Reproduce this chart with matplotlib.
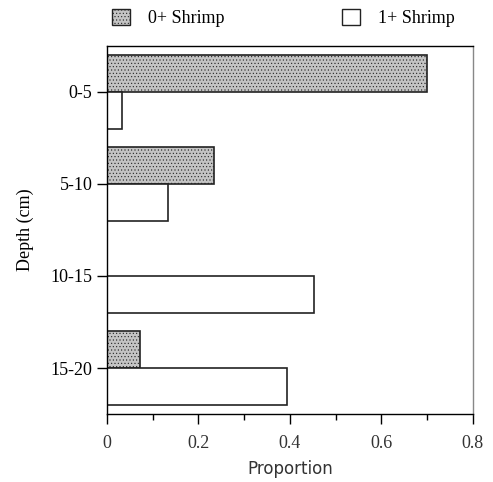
import matplotlib
matplotlib.use('Agg')
import matplotlib.pyplot as plt
import numpy as np
from matplotlib.patches import Patch
from matplotlib.ticker import MultipleLocator

depths = ['0-5', '5-10', '10-15', '15-20']
shrimp0 = [0.70, 0.235, 0.0, 0.072]
shrimp1 = [0.033, 0.133, 0.452, 0.393]


def main():
    plt.rcParams['hatch.linewidth'] = 0.4
    plt.rcParams['hatch.color'] = '#707070'
    serif = 'Liberation Serif'

    fig = plt.figure(figsize=(4.93, 4.82), dpi=100)
    ax = fig.add_axes([0.217, 0.141, 0.742, 0.764])

    y = np.arange(len(depths))
    h = 0.4
    ax.barh(y - h / 2, shrimp0, height=h, facecolor='#c4c4c4', edgecolor='#222222',
            linewidth=1.2, hatch='.....')
    ax.barh(y + h / 2, shrimp1, height=h, facecolor='white', edgecolor='#222222',
            linewidth=1.2)

    ax.set_xlim(0, 0.8)
    ax.set_ylim(3.5, -0.5)
    ax.set_yticks(y)
    ax.set_yticklabels(depths, fontfamily=serif, fontsize=13)
    ax.set_xticks([0, 0.2, 0.4, 0.6, 0.8])
    ax.set_xticklabels(['0', '0.2', '0.4', '0.6', '0.8'], fontfamily=serif, fontsize=13,
                       color='#333333')
    ax.xaxis.set_minor_locator(MultipleLocator(0.1))
    ax.tick_params(axis='both', which='major', direction='out', length=7, width=1)
    ax.tick_params(axis='x', which='minor', direction='out', length=4, width=1)
    ax.tick_params(axis='x', pad=8)
    for s in ax.spines.values():
        s.set_linewidth(1.0)
    ax.spines['right'].set_color('#888888')

    ax.set_xlabel('Proportion', fontsize=12, color='#333333', labelpad=6)
    ax.set_ylabel('Depth (cm)', fontfamily=serif, fontsize=13, labelpad=12)

    handles = [Patch(facecolor='#c4c4c4', edgecolor='#222222', hatch='.....', label='0+ Shrimp'),
               Patch(facecolor='white', edgecolor='#222222', label='1+ Shrimp')]
    fig.legend(handles=handles, loc='center', bbox_to_anchor=(0.575, 0.963), ncol=2,
               frameon=False, prop={'family': serif, 'size': 13}, handlelength=1.0,
               handleheight=1.0, columnspacing=6.5, handletextpad=1.0)

    plt.savefig('out.png', dpi=100)


if __name__ == '__main__':
    main()
